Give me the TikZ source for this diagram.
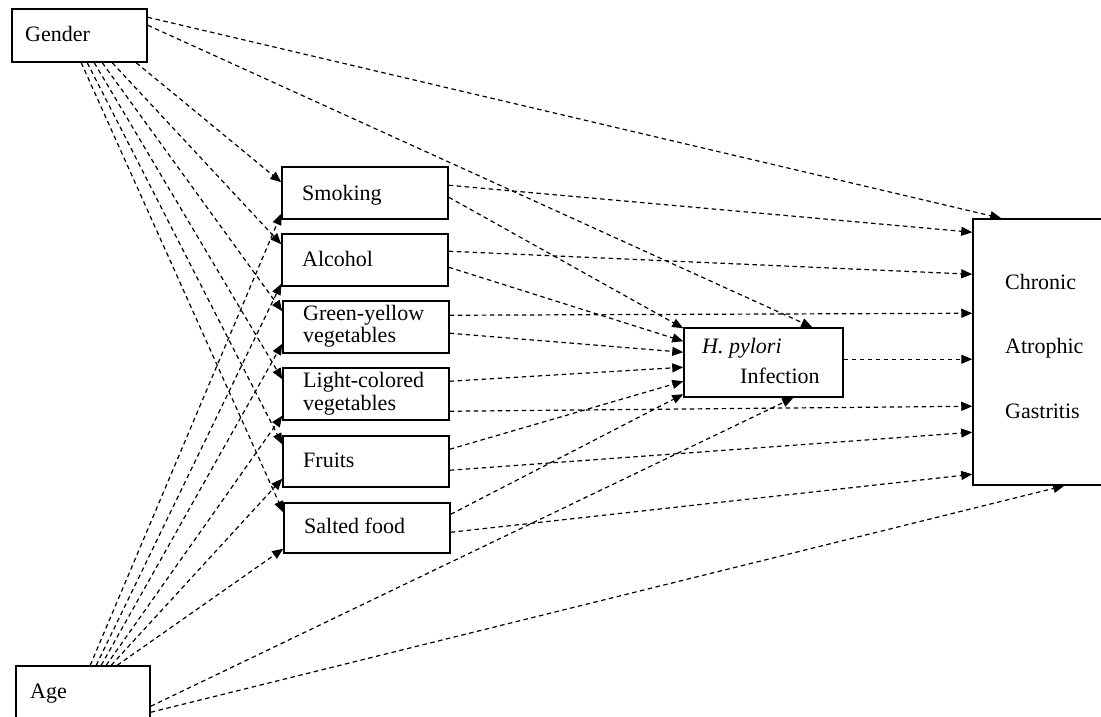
\documentclass[tikz,border=0pt]{standalone}
\usepackage{fontspec}
\setmainfont{Liberation Serif}
\usetikzlibrary{arrows.meta}
\begin{document}
\begin{tikzpicture}[x=1pt,y=-1pt,
  box/.style={draw,line width=1.5pt,rectangle,inner sep=0pt},
  lbl/.style={anchor=base west,inner sep=0pt,font=\fontsize{22}{24}\selectfont},
  conn/.style={line width=1.2pt,dash pattern=on 4.5pt off 3.5pt,-{Triangle[length=11pt,width=9pt]}}]
\useasboundingbox (0,0) rectangle (1101,717);
% boxes
\node[box,minimum width=135pt,minimum height=53pt] (gender) at (79.5,35.5) {};
\node[box,minimum width=134pt,minimum height=60pt] (age) at (83,696) {};
\node[box,minimum width=166pt,minimum height=52pt] (smo) at (365,193) {};
\node[box,minimum width=166pt,minimum height=52pt] (alc) at (365,260) {};
\node[box,minimum width=166pt,minimum height=52pt] (gy) at (366,327) {};
\node[box,minimum width=166pt,minimum height=52pt] (lc) at (366,394) {};
\node[box,minimum width=166pt,minimum height=51pt] (fru) at (366,461.5) {};
\node[box,minimum width=166pt,minimum height=50pt] (sal) at (367,528) {};
\node[box,minimum width=159pt,minimum height=69pt] (hp) at (763.5,362.5) {};
\node[box,minimum width=140pt,minimum height=266pt] (cag) at (1043,352) {};
% labels
\node[lbl] (tgender) at (25,42) {Gender};
\node[lbl] (tage) at (30,698) {Age};
\node[lbl] (tsmo) at (302,200) {Smoking};
\node[lbl] (talc) at (302,266) {Alcohol};
\node[lbl] (tgy1) at (303,320) {Green-yellow};
\node[lbl] (tgy2) at (303,342) {vegetables};
\node[lbl] (tlc1) at (303,387) {Light-colored};
\node[lbl] (tlc2) at (303,410) {vegetables};
\node[lbl] (tfru) at (303,467) {Fruits};
\node[lbl] (tsal) at (304,533) {Salted food};
\node[lbl] (thp1) at (702,353) {\itshape H. pylori};
\node[lbl] (thp2) at (740,383) {Infection};
\node[lbl] (tc1) at (1005,289) {Chronic};
\node[lbl] (tc2) at (1005,353) {Atrophic};
\node[lbl] (tc3) at (1005,418) {Gastritis};
% Gender connectors
\draw[conn] ([yshift=-9pt]gender.north east) -- ([xshift=29pt]cag.north west);
\draw[conn] ([yshift=-17pt]gender.north east) -- ([xshift=129pt]hp.north west);
\draw[conn] ([xshift=125pt]gender.south west) -- ([yshift=-16pt]smo.north west);
\draw[conn] ([xshift=101pt]gender.south west) -- ([yshift=-11pt]alc.north west);
\draw[conn] ([xshift=91pt]gender.south west) -- ([yshift=-11pt]gy.north west);
\draw[conn] ([xshift=83pt]gender.south west) -- ([yshift=-12pt]lc.north west);
\draw[conn] ([xshift=76pt]gender.south west) -- ([yshift=-9pt]fru.north west);
\draw[conn] ([xshift=70pt]gender.south west) -- ([yshift=-10pt]sal.north west);
% Age connectors
\draw[conn] ([xshift=75pt]age.north west) -- ([yshift=6pt]smo.south west);
\draw[conn] ([xshift=81pt]age.north west) -- ([yshift=3pt]alc.south west);
\draw[conn] ([xshift=86pt]age.north west) -- ([yshift=10pt]gy.south west);
\draw[conn] ([xshift=91pt]age.north west) -- ([yshift=5pt]lc.south west);
\draw[conn] ([xshift=96pt]age.north west) -- ([yshift=9pt]fru.south west);
\draw[conn] ([xshift=102pt]age.north west) -- ([yshift=5pt]sal.south west);
\draw[conn] ([yshift=-41pt]age.north east) -- ([xshift=110pt]hp.south west);
\draw[conn] ([yshift=-47pt]age.north east) -- ([xshift=92pt]cag.south west);
% middle to CAG
\draw[conn] ([yshift=-19pt]smo.north east) -- ([yshift=-14pt]cag.north west);
\draw[conn] ([yshift=-18pt]alc.north east) -- ([yshift=-56pt]cag.north west);
\draw[conn] ([yshift=-15pt]gy.north east) -- ([yshift=-95pt]cag.north west);
\draw[conn] ([yshift=-44pt]lc.north east) -- ([yshift=-188pt]cag.north west);
\draw[conn] ([yshift=-32pt]hp.north east) -- ([yshift=-141pt]cag.north west);
\draw[conn] ([yshift=-35pt]fru.north east) -- ([yshift=-214pt]cag.north west);
\draw[conn] ([yshift=-30pt]sal.north east) -- ([yshift=-256pt]cag.north west);
% middle to H. pylori
\draw[conn] ([yshift=-31pt]smo.north east) -- ([yshift=-1pt]hp.north west);
\draw[conn] ([yshift=-34pt]alc.north east) -- ([yshift=-14pt]hp.north west);
\draw[conn] ([yshift=-33pt]gy.north east) -- ([yshift=-25pt]hp.north west);
\draw[conn] ([yshift=-14pt]lc.north east) -- ([yshift=-40pt]hp.north west);
\draw[conn] ([yshift=-14pt]fru.north east) -- ([yshift=-54pt]hp.north west);
\draw[conn] ([yshift=-12pt]sal.north east) -- ([yshift=-67pt]hp.north west);
\end{tikzpicture}
\end{document}
